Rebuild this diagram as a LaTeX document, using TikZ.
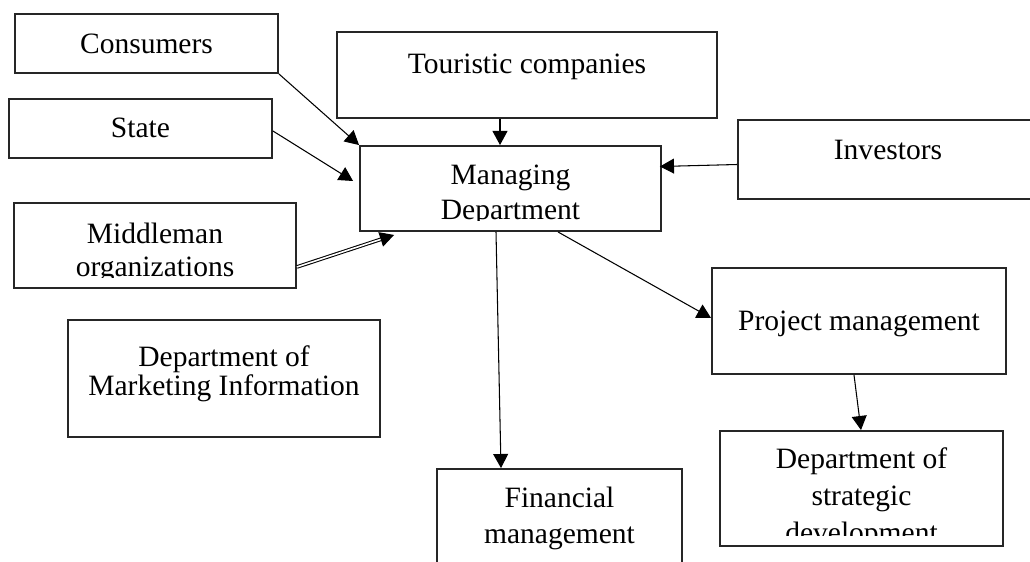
\documentclass[tikz,border=0pt]{standalone}
\usepackage{fontspec}
\setmainfont{Liberation Serif}
\usetikzlibrary{arrows.meta,calc,positioning}

\begin{document}
\begin{tikzpicture}[x=0.02cm, y=-0.02cm,
    box/.style={draw=black!85, line width=1.1pt, fill=none, inner sep=0pt},
    lbl/.style={inner sep=0pt, align=center, anchor=base,
      font=\fontsize{16.8}{19.5}\selectfont},
    arr/.style={-{Triangle[length=8pt,width=8.5pt]}, line width=0.6pt}]
  \clip (0,0) rectangle (1030,561);

  % outer boxes
  \node[box, minimum width=5.26cm, minimum height=1.18cm] (cons) at (146.5,43.5) {};
  \node[box, minimum width=5.26cm, minimum height=1.18cm] (state) at (140.5,128.5) {};
  \node[box, minimum width=5.64cm, minimum height=1.70cm] (mid) at (155,245.5) {};
  \node[box, minimum width=6.24cm, minimum height=2.34cm] (mkt) at (224,378.5) {};
  \node[box, minimum width=7.60cm, minimum height=1.72cm] (tour) at (527,75) {};
  \node[box, minimum width=6.02cm, minimum height=1.70cm] (mgmt) at (510.5,188.5) {};
  \node[box, minimum width=6.00cm, minimum height=1.58cm] (inv) at (888,159.5) {};
  \node[box, minimum width=5.88cm, minimum height=2.12cm] (proj) at (859,321) {};
  \node[box, minimum width=5.66cm, minimum height=2.30cm] (strat) at (861.5,488.5) {};
  \node[box, minimum width=4.90cm, minimum height=2.22cm] (fin) at (559.5,524.5) {};

  % labels (base = last line)
  \node[lbl] (cons-t) at (146.5,53) {Consumers};
  \node[lbl] (state-t) at (140.5,137) {State};
  \node[lbl, font=\fontsize{16.8}{16}\selectfont] (mkt-t) at (224,395)
    {Department of\\Marketing Information};
  \node[lbl] (tour-t) at (527,73) {Touristic companies};
  \node[lbl] (inv-t) at (888,159) {Investors};
  \node[lbl] (proj-t) at (859,330) {Project management};
  \node[lbl, font=\fontsize{16.8}{20.4}\selectfont] (fin-t) at (559.5,543)
    {Financial\\management};
  \begin{scope}
    \clip ($(mid.south west)+(0,-11)$) rectangle (mid.north east);
    \node[lbl, font=\fontsize{16.8}{18.7}\selectfont] (mid-t) at (155,276)
      {Middleman\\organizations};
  \end{scope}
  \begin{scope}
    \clip ($(mgmt.south west)+(0,-11)$) rectangle (mgmt.north east);
    \node[lbl, font=\fontsize{16.8}{19.8}\selectfont] (mgmt-t) at (510.5,219)
      {Managing\\Department};
  \end{scope}
  \begin{scope}
    \clip ($(strat.south west)+(0,-11)$) rectangle (strat.north east);
    \node[lbl, font=\fontsize{16.8}{21}\selectfont] (strat-t) at (861.5,542)
      {Department of\\strategic\\development};
  \end{scope}

  % links
  \draw[arr] (cons.south east) -- (mgmt.north west);
  \draw[arr] ($(state.east)+(0,2.5)$) -- ($(mgmt.west)+(-6,-7.5)$);
  \draw[arr, double, double distance=0.9pt, line width=0.6pt]
    ($(mid.south east)+(0,-22)$) -- ($(mgmt.south west)+(35,3)$);
  \draw[arr] ($(tour.south)+(-27,0)$) -- ($(mgmt.north)+(-10.5,0)$);
  \draw[arr] ($(inv.west)+(0,5)$) -- ($(mgmt.east)+(-2,-22)$);
  \draw[arr] ($(mgmt.south)+(-14.5,0)$) -- ($(fin.north)+(-58.5,0)$);
  \draw[arr] ($(mgmt.south)+(47.5,0)$) -- ($(proj.west)+(0,-3)$);
  \draw[arr] ($(proj.south)+(-5,0)$) -- ($(strat.north)+(-0.5,0)$);
\end{tikzpicture}
\end{document}
